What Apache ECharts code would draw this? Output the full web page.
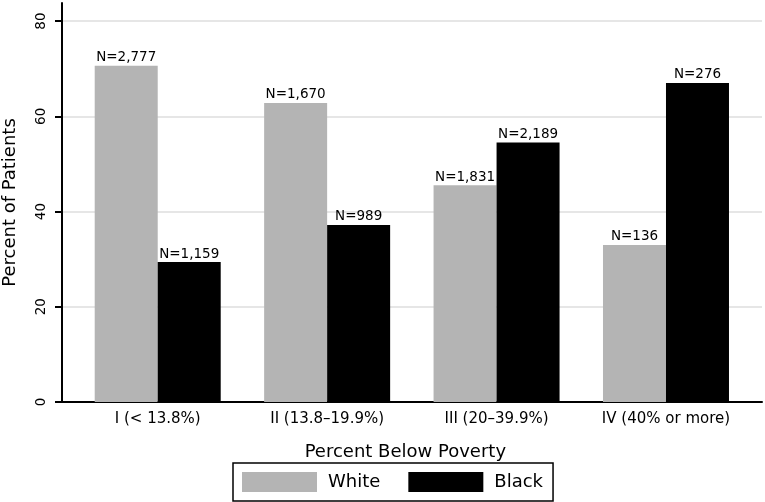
<!DOCTYPE html>
<html>
<head>
<meta charset="utf-8">
<script src="https://cdn.jsdelivr.net/npm/echarts@6/dist/echarts.min.js"></script>
<style>html,body{margin:0;padding:0;background:#fff}#c{width:765px;height:502px}</style>
</head>
<body>
<div id="c"></div>
<script>
const categories = ['I (< 13.8%)', 'II (13.8\u201319.9%)', 'III (20\u201339.9%)', 'IV (40% or more)'];
const whitePct = [70.6, 62.8, 45.5, 33.0];
const blackPct = [29.4, 37.2, 54.5, 67.0];
const whiteN = [2777, 1670, 1831, 136];
const blackN = [1159, 989, 2189, 276];
const yTicks = [0, 20, 40, 60, 80];

const FONT = 'DejaVu Sans';
const fmtN = n => 'N=' + String(n).replace(/\B(?=(\d{3})+(?!\d))/g, ',');
const YMAX = 83.8;

const chart = echarts.init(document.getElementById('c'), null, {renderer: 'canvas'});
chart.setOption({
  animation: false,
  backgroundColor: '#fff',
  textStyle: {fontFamily: FONT, color: '#000'},
  grid: [
    {left: 62, right: 3, top: 3, bottom: 100, containLabel: false, outerBoundsMode: 'none'},
    {left: 73, right: 14.3, top: 3, bottom: 100, containLabel: false, outerBoundsMode: 'none'}
  ],
  xAxis: [
    {gridIndex: 0, type: 'value', min: 0, max: 1,
     axisLine: {show: true, lineStyle: {color: '#000', width: 2}},
     axisTick: {show: false}, axisLabel: {show: false}, splitLine: {show: false}},
    {gridIndex: 1, type: 'category', data: categories,
     axisLine: {show: false}, axisTick: {show: false},
     axisLabel: {margin: 10, fontSize: 15, color: '#000', fontFamily: FONT},
     name: 'Percent Below Poverty', nameLocation: 'middle', nameGap: 41,
     nameTextStyle: {fontSize: 18, color: '#000', fontFamily: FONT, padding: [0, 13, 0, 0]}}
  ],
  yAxis: [
    {gridIndex: 0, type: 'value', min: 0, max: YMAX,
     axisLine: {show: true, lineStyle: {color: '#000', width: 2}},
     axisTick: {show: true, length: 7, lineStyle: {color: '#000', width: 2}, customValues: yTicks},
     axisLabel: {rotate: 90, margin: 14, fontSize: 13.5, color: '#000', fontFamily: FONT, customValues: yTicks},
     splitLine: {show: true, showMinLine: false, lineStyle: {color: '#dedede', width: 1.5}},
     name: 'Percent of Patients', nameLocation: 'middle', nameGap: 43,
     nameTextStyle: {fontSize: 18, color: '#000', fontFamily: FONT}},
    {gridIndex: 1, type: 'value', min: 0, max: YMAX, show: false}
  ],
  legend: {
    left: 233, top: 463,
    padding: [9, 10, 9, 9],
    borderColor: '#000', borderWidth: 1.5,
    itemWidth: 75, itemHeight: 20, itemGap: 28,
    icon: 'rect',
    textStyle: {fontSize: 18, color: '#000', fontFamily: FONT, padding: [0, 0, 0, 6]},
    data: ['White', 'Black']
  },
  series: [
    {name: 'White', type: 'bar', xAxisIndex: 1, yAxisIndex: 1, data: whitePct,
     barWidth: 63, barGap: '0%',
     itemStyle: {color: '#b4b4b4'},
     label: {show: true, position: 'top', distance: 1, fontSize: 13.5, color: '#000', fontFamily: FONT,
             formatter: p => fmtN(whiteN[p.dataIndex])}},
    {name: 'Black', type: 'bar', xAxisIndex: 1, yAxisIndex: 1, data: blackPct,
     barWidth: 63, barGap: '0%',
     itemStyle: {color: '#000'},
     label: {show: true, position: 'top', distance: 1, fontSize: 13.5, color: '#000', fontFamily: FONT,
             formatter: p => fmtN(blackN[p.dataIndex])}}
  ]
});
</script>
</body>
</html>
